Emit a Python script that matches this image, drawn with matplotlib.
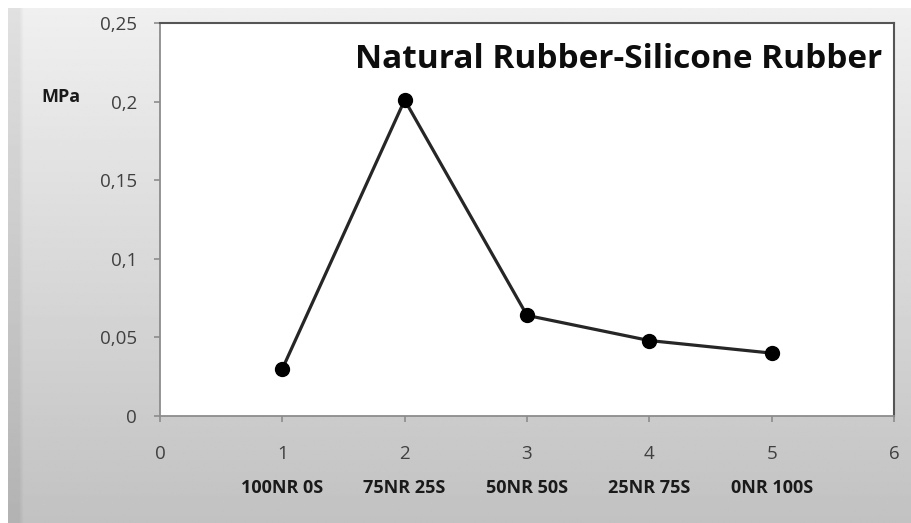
import numpy as np
import matplotlib
matplotlib.use("Agg")
import matplotlib.pyplot as plt
from matplotlib import transforms

x_vals = [1, 2, 3, 4, 5]
mpa_vals = [0.030, 0.201, 0.064, 0.048, 0.040]
categories = ["100NR 0S", "75NR 25S", "50NR 50S", "25NR 75S", "0NR 100S"]
y_ticks = [0, 0.05, 0.1, 0.15, 0.2, 0.25]
y_tick_labels = ["0", "0,05", "0,1", "0,15", "0,2", "0,25"]
x_ticks = [0, 1, 2, 3, 4, 5, 6]

plt.rcParams['font.family'] = ['Open Sans', 'DejaVu Sans']

W, H = 911, 523
fig = plt.figure(figsize=(9.11, 5.23), dpi=100, facecolor='white')
# gradient chart-area background with small white margin top/left
m = 8
bg = fig.add_axes([m / W, 0, 1 - m / W, 1 - m / H], zorder=-10)
grad = np.linspace(0.94, 0.76, 256).reshape(-1, 1)
img = np.repeat(grad, 200, axis=1)
img[:, :3] -= 0.06  # darker left edge strip
bg.imshow(img, cmap='gray', vmin=0, vmax=1, aspect='auto',
          extent=[0, 1, 0, 1], origin='upper', interpolation='bilinear')
bg.axis('off')

left, top, right, bottom = 160, 23, 894, 416
ax = fig.add_axes([left / W, 1 - bottom / H, (right - left) / W, (bottom - top) / H])
ax.set_facecolor('white')

ax.plot(x_vals, mpa_vals, color='#262626', lw=2.3, marker='o', markersize=10,
        markerfacecolor='black', markeredgecolor='black', zorder=3)

ax.set_xlim(0, 6)
ax.set_ylim(0, 0.25)
ax.set_xticks(x_ticks)
ax.set_xticklabels([str(t) for t in x_ticks])
ax.set_yticks(y_ticks)
ax.set_yticklabels(y_tick_labels)
ax.tick_params(axis='both', labelsize=13.5, colors='#8c8c8c', labelcolor='#404040',
               length=4, width=1.2)
ax.tick_params(axis='x', pad=17)
ax.tick_params(axis='y', pad=12.5)

for s in ['left', 'bottom']:
    ax.spines[s].set_color('#8c8c8c')
    ax.spines[s].set_linewidth(1.3)
for s in ['top', 'right']:
    ax.spines[s].set_color('#555555')
    ax.spines[s].set_linewidth(1.5)

trans = transforms.blended_transform_factory(ax.transData, fig.transFigure)
for xv, c in zip(x_vals, categories):
    ax.text(xv, 1 - 488 / H, c, transform=trans, ha='center', va='center',
            fontsize=13, fontweight='bold', color='#1a1a1a')

fig.text(61 / W, 1 - 97 / H, "MPa", ha='center', va='center', fontsize=13,
         fontweight='bold', color='#1a1a1a')

fig.text(882 / W, 1 - 60 / H, "Natural Rubber-Silicone Rubber", ha='right',
         va='center', fontsize=24, fontweight='bold', color='#0d0d0d')

fig.savefig("out.png", dpi=100)
